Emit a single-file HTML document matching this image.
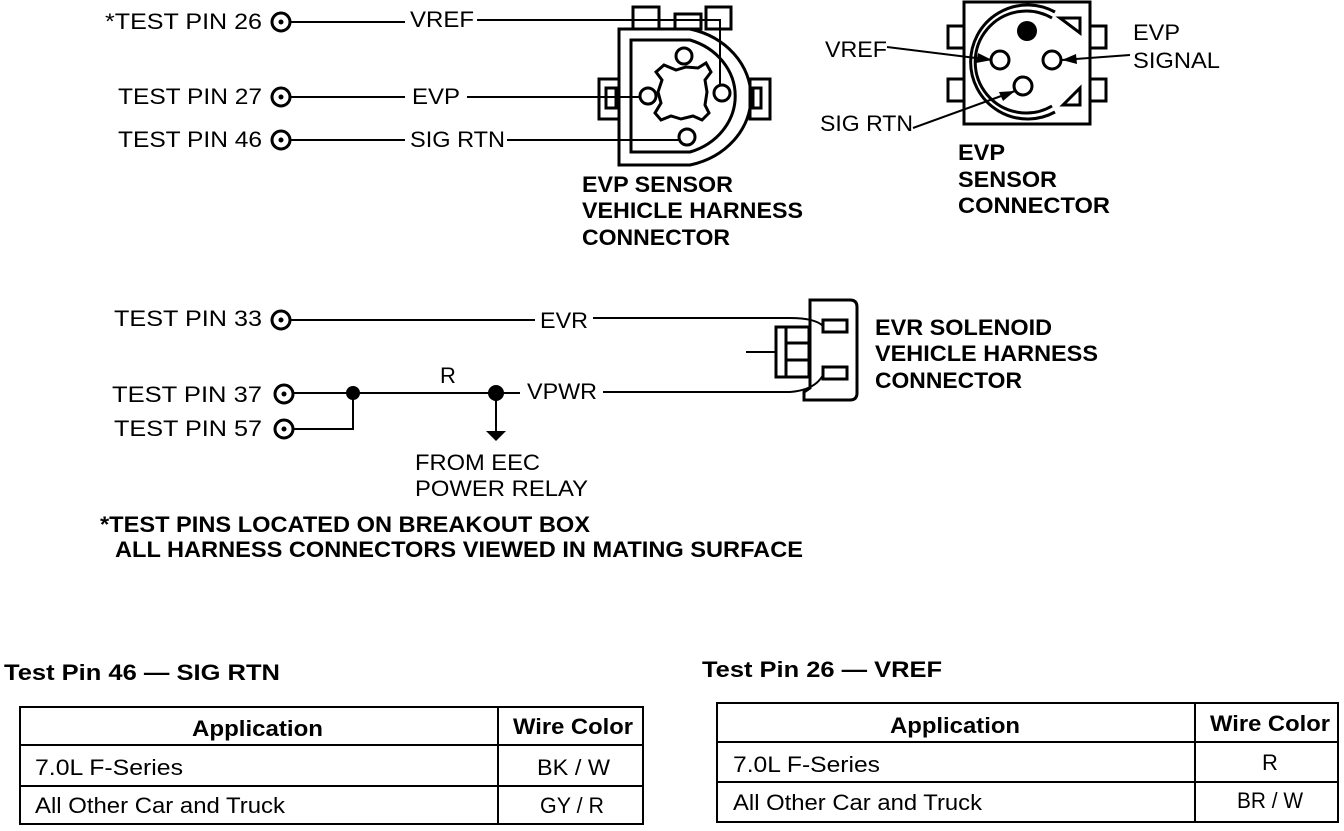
<!DOCTYPE html>
<html><head><style>
body{margin:0;background:#fff}
svg text{font-family:"Liberation Sans",sans-serif;fill:#000}
</style></head><body>
<svg width="1344" height="826" viewBox="0 0 1344 826" xmlns="http://www.w3.org/2000/svg">
<g font-size="22">
<text x="105" y="29" textLength="157" lengthAdjust="spacingAndGlyphs">*TEST PIN 26</text>
<text x="118" y="104" textLength="144" lengthAdjust="spacingAndGlyphs">TEST PIN 27</text>
<text x="118" y="147" textLength="144" lengthAdjust="spacingAndGlyphs">TEST PIN 46</text>
<text x="410" y="27" textLength="64" lengthAdjust="spacingAndGlyphs">VREF</text>
<text x="412" y="104" textLength="48" lengthAdjust="spacingAndGlyphs">EVP</text>
<text x="410" y="147" textLength="95" lengthAdjust="spacingAndGlyphs">SIG RTN</text>
<text x="114" y="326" textLength="148" lengthAdjust="spacingAndGlyphs">TEST PIN 33</text>
<text x="112" y="402" textLength="150" lengthAdjust="spacingAndGlyphs">TEST PIN 37</text>
<text x="114" y="436" textLength="148" lengthAdjust="spacingAndGlyphs">TEST PIN 57</text>
<text x="540" y="328" textLength="48" lengthAdjust="spacingAndGlyphs">EVR</text>
<text x="440" y="383">R</text>
<text x="527" y="399" textLength="70" lengthAdjust="spacingAndGlyphs">VPWR</text>
<text x="415" y="470" textLength="125" lengthAdjust="spacingAndGlyphs">FROM EEC</text>
<text x="415" y="496" textLength="173" lengthAdjust="spacingAndGlyphs">POWER RELAY</text>
<text x="825" y="57" textLength="62" lengthAdjust="spacingAndGlyphs">VREF</text>
<text x="820" y="131" textLength="93" lengthAdjust="spacingAndGlyphs">SIG RTN</text>
<text x="1133" y="40" textLength="47" lengthAdjust="spacingAndGlyphs">EVP</text>
<text x="1133" y="68" textLength="87" lengthAdjust="spacingAndGlyphs">SIGNAL</text>
</g>
<g font-size="22" font-weight="bold">
<text x="582" y="192" textLength="151" lengthAdjust="spacingAndGlyphs">EVP SENSOR</text>
<text x="582" y="218" textLength="221" lengthAdjust="spacingAndGlyphs">VEHICLE HARNESS</text>
<text x="582" y="245" textLength="148" lengthAdjust="spacingAndGlyphs">CONNECTOR</text>
<text x="958" y="160" textLength="47" lengthAdjust="spacingAndGlyphs">EVP</text>
<text x="958" y="187" textLength="99" lengthAdjust="spacingAndGlyphs">SENSOR</text>
<text x="958" y="213" textLength="152" lengthAdjust="spacingAndGlyphs">CONNECTOR</text>
<text x="875" y="335" textLength="177" lengthAdjust="spacingAndGlyphs">EVR SOLENOID</text>
<text x="875" y="361" textLength="223" lengthAdjust="spacingAndGlyphs">VEHICLE HARNESS</text>
<text x="875" y="388" textLength="147" lengthAdjust="spacingAndGlyphs">CONNECTOR</text>
<text x="100" y="532" textLength="490" lengthAdjust="spacingAndGlyphs">*TEST PINS LOCATED ON BREAKOUT BOX</text>
<text x="115" y="557" textLength="688" lengthAdjust="spacingAndGlyphs">ALL HARNESS CONNECTORS VIEWED IN MATING SURFACE</text>
<text x="4" y="680" textLength="276" lengthAdjust="spacingAndGlyphs">Test Pin 46 — SIG RTN</text>
<text x="702" y="677" textLength="240" lengthAdjust="spacingAndGlyphs">Test Pin 26 — VREF</text>
</g>
<g fill="none" stroke="#000" stroke-width="3">
<circle cx="281" cy="22" r="9"/><circle cx="281" cy="97" r="9"/><circle cx="281" cy="140" r="9"/>
<circle cx="281" cy="320" r="9"/><circle cx="284" cy="394" r="9"/><circle cx="284" cy="429" r="9"/>
</g>
<g fill="#000">
<circle cx="281" cy="22" r="2.5"/><circle cx="281" cy="97" r="2.5"/><circle cx="281" cy="140" r="2.5"/>
<circle cx="281" cy="320" r="2.5"/><circle cx="284" cy="394" r="2.5"/><circle cx="284" cy="429" r="2.5"/>
<circle cx="353" cy="393" r="7"/><circle cx="496" cy="393" r="8"/>
<polygon points="486,431 506,431 496,441"/>
</g>
<g fill="none" stroke="#000" stroke-width="2">
<line x1="290" y1="22" x2="405" y2="22"/>
<polyline points="477,20 720,20 720,85"/>
<line x1="290" y1="97" x2="405" y2="97"/>
<line x1="467" y1="97" x2="640" y2="97"/>
<line x1="290" y1="140" x2="405" y2="140"/>
<line x1="507" y1="140" x2="679" y2="140"/>
<line x1="290" y1="320" x2="535" y2="320"/>
<path d="M593,318 L790,318 Q815,318 823,326"/>
<line x1="293" y1="393" x2="520" y2="393"/>
<path d="M603,392 L790,392 Q815,390 823,375"/>
<polyline points="293,429 353,429 353,393"/>
<line x1="496" y1="393" x2="496" y2="432"/>
<line x1="887" y1="47" x2="992" y2="60"/>
<line x1="913" y1="128" x2="1015" y2="91"/>
<line x1="1130" y1="55" x2="1062" y2="60"/>
</g>
<g fill="#000">
<polygon points="992,60 978,53 976,63"/>
<polygon points="1015,91 999,92 1003,101"/>
<polygon points="1062,60 1076,54 1077,64"/>
</g>
<g fill="none" stroke="#000" stroke-width="3">
<rect x="633" y="7" width="26" height="22"/>
<rect x="675" y="14" width="26" height="15"/>
<rect x="706" y="7" width="25" height="22"/>
<rect x="599" y="79" width="20" height="40"/><rect x="606" y="88" width="10" height="20"/>
<rect x="750" y="79" width="20" height="40"/><rect x="753" y="88" width="8" height="20"/>
<path d="M619,29 L690,29 A80,70 0 0 1 690,165 L619,165 Z"/>
<path d="M631,40 L690,40 A66,59 0 0 1 690,152 L631,152 Z"/>
<circle cx="684" cy="56" r="8"/>
<circle cx="648" cy="96" r="8"/>
<circle cx="722" cy="93" r="8"/>
<circle cx="687" cy="137" r="8"/>
<path d="M664,65 L676,70 L686,67 L698,68 L706,63 L711,72 L705,80 L707,92 L705,105 L709,113 L702,120 L693,116 L681,119 L671,116 L661,120 L655,113 L661,103 L658,92 L662,80 L656,72 Z"/>
</g>
<g fill="none" stroke="#000" stroke-width="3">
<rect x="964" y="2" width="126" height="122"/>
<rect x="948" y="26" width="16" height="22"/><rect x="948" y="79" width="16" height="22"/>
<rect x="1090" y="26" width="16" height="22"/><rect x="1090" y="79" width="16" height="22"/>
<path d="M1055,12 A57,57 0 1 0 1055,112"/>
<path d="M1052,18 A51,51 0 1 0 1052,106"/>
<circle cx="1000" cy="60" r="9"/><circle cx="1052" cy="60" r="9"/><circle cx="1023" cy="86" r="9"/>
<path d="M1060,18 L1080,18 L1080,33 Z"/>
<path d="M1063,105 L1080,105 L1080,88 Z"/>
</g>
<circle cx="1027" cy="31" r="10" fill="#000"/>
<g fill="none" stroke="#000" stroke-width="3">
<path d="M810,300 L850,300 Q857,300 857,307 L857,393 Q857,400 850,400 L804,400 L804,392 L810,388 Z"/>
<rect x="776" y="327" width="33" height="50"/>
<line x1="786" y1="327" x2="786" y2="377"/>
<line x1="786" y1="343" x2="809" y2="343"/><line x1="786" y1="360" x2="809" y2="360"/>
<rect x="823" y="320" width="24" height="12"/>
<rect x="823" y="367" width="24" height="12"/>
</g>
<line x1="746" y1="352" x2="776" y2="352" stroke="#000" stroke-width="2"/>
<g fill="none" stroke="#000" stroke-width="2">
<rect x="20" y="707" width="623" height="117"/>
<line x1="20" y1="745" x2="643" y2="745"/><line x1="20" y1="786" x2="643" y2="786"/>
<line x1="498" y1="707" x2="498" y2="824"/>
<rect x="717" y="703" width="621" height="119"/>
<line x1="717" y1="742" x2="1338" y2="742"/><line x1="717" y1="782" x2="1338" y2="782"/>
<line x1="1195" y1="703" x2="1195" y2="822"/>
</g>
<g font-size="22">
<text x="192" y="736" font-weight="bold" textLength="131" lengthAdjust="spacingAndGlyphs">Application</text>
<text x="513" y="734" font-weight="bold" textLength="120" lengthAdjust="spacingAndGlyphs">Wire Color</text>
<text x="35" y="775" textLength="148" lengthAdjust="spacingAndGlyphs">7.0L F-Series</text>
<text x="537" y="775" textLength="73" lengthAdjust="spacingAndGlyphs">BK / W</text>
<text x="35" y="813" textLength="250" lengthAdjust="spacingAndGlyphs">All Other Car and Truck</text>
<text x="540" y="813" textLength="64" lengthAdjust="spacingAndGlyphs">GY / R</text>
<text x="890" y="733" font-weight="bold" textLength="130" lengthAdjust="spacingAndGlyphs">Application</text>
<text x="1210" y="731" font-weight="bold" textLength="120" lengthAdjust="spacingAndGlyphs">Wire Color</text>
<text x="733" y="772" textLength="147" lengthAdjust="spacingAndGlyphs">7.0L F-Series</text>
<text x="1270" y="770" text-anchor="middle">R</text>
<text x="733" y="810" textLength="249" lengthAdjust="spacingAndGlyphs">All Other Car and Truck</text>
<text x="1237" y="808" textLength="66" lengthAdjust="spacingAndGlyphs">BR / W</text>
</g>
</svg>
</body></html>
